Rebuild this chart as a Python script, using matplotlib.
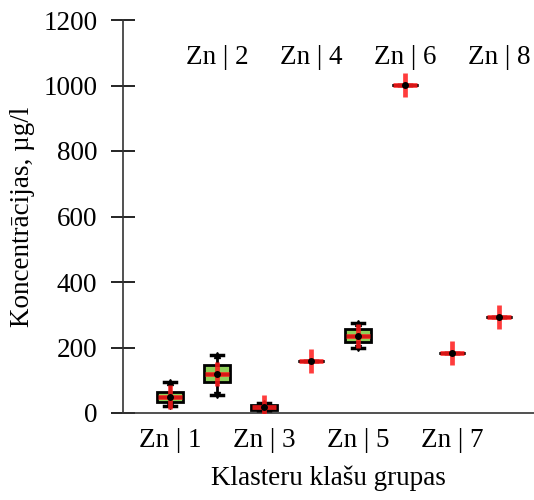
import matplotlib
matplotlib.use("Agg")
import matplotlib.pyplot as plt

plt.rcParams['font.family'] = ['Liberation Serif', 'DejaVu Serif']

labels = ["Zn | 1", "Zn | 2", "Zn | 3", "Zn | 4", "Zn | 5", "Zn | 6", "Zn | 7", "Zn | 8"]
whislo = [21, 55, 5, 159, 198, 1002, 183, 293]
q1 = [34, 95, 10, 159, 217, 1002, 183, 293]
med = [49, 120, 18, 159, 235, 1002, 183, 293]
q3 = [64, 147, 25, 159, 256, 1002, 183, 293]
whishi = [95, 177, 30, 159, 275, 1002, 183, 293]
means = [49, 120, 18, 159, 235, 1002, 183, 293]
yticks = [0, 200, 400, 600, 800, 1000, 1200]

fig = plt.figure(figsize=(5.34, 5.0), dpi=100)
ax = fig.add_axes([0.2303, 0.174, 0.7697, 0.786])

pos = list(range(1, len(labels) + 1))
stats = []
for i in range(len(labels)):
    stats.append(dict(whislo=whislo[i], q1=q1[i], med=med[i], q3=q3[i], whishi=whishi[i], fliers=[]))

ax.bxp(stats, positions=pos, widths=0.55, patch_artist=True, showfliers=False,
       boxprops=dict(facecolor='#8fd05a', edgecolor='black', linewidth=2),
       medianprops=dict(color='black', linewidth=2),
       whiskerprops=dict(color='black', linewidth=2),
       capprops=dict(color='black', linewidth=2.5), capwidths=0.25)

multi = [i for i in range(len(labels)) if whishi[i] > whislo[i]]
ax.plot([pos[i] for i in multi], [whishi[i] for i in multi], linestyle='none', marker='^',
        color='black', markersize=5, zorder=4)
ax.plot([pos[i] for i in multi], [whislo[i] for i in multi], linestyle='none', marker='v',
        color='black', markersize=5, zorder=4)

ax.plot(pos, means, linestyle='none', marker='+', markersize=17, markeredgewidth=3.4,
        color='#ff1a1a', alpha=0.85, zorder=5)
ax.plot(pos, means, linestyle='none', marker='o', markersize=4, color='black', zorder=6)

ax.set_xlim(0, 8.74)
ax.set_ylim(0, 1200)
ax.set_yticks(yticks)
ax.set_yticklabels([str(v) for v in yticks], fontsize=19.5)
ax.set_xticks([])
ax.tick_params(axis='y', direction='inout', length=17, width=1.2, pad=10)

for i, lab in enumerate(labels):
    if i % 2 == 0:
        ax.text(pos[i], -0.07, lab, transform=ax.get_xaxis_transform(), ha='center', va='center', fontsize=19.5)
    else:
        ax.text(pos[i], 0.905, lab, transform=ax.get_xaxis_transform(), ha='center', va='center', fontsize=19.5)

for s in ['top', 'right']:
    ax.spines[s].set_visible(False)
for s in ['left', 'bottom']:
    ax.spines[s].set_linewidth(1.2)
    ax.spines[s].set_color('#333333')

ax.set_ylabel("Koncentrācijas, µg/l", fontsize=19.5, labelpad=6)
ax.set_xlabel("Klasteru klašu grupas", fontsize=19.5, labelpad=38)

fig.savefig("out.png", dpi=100)
